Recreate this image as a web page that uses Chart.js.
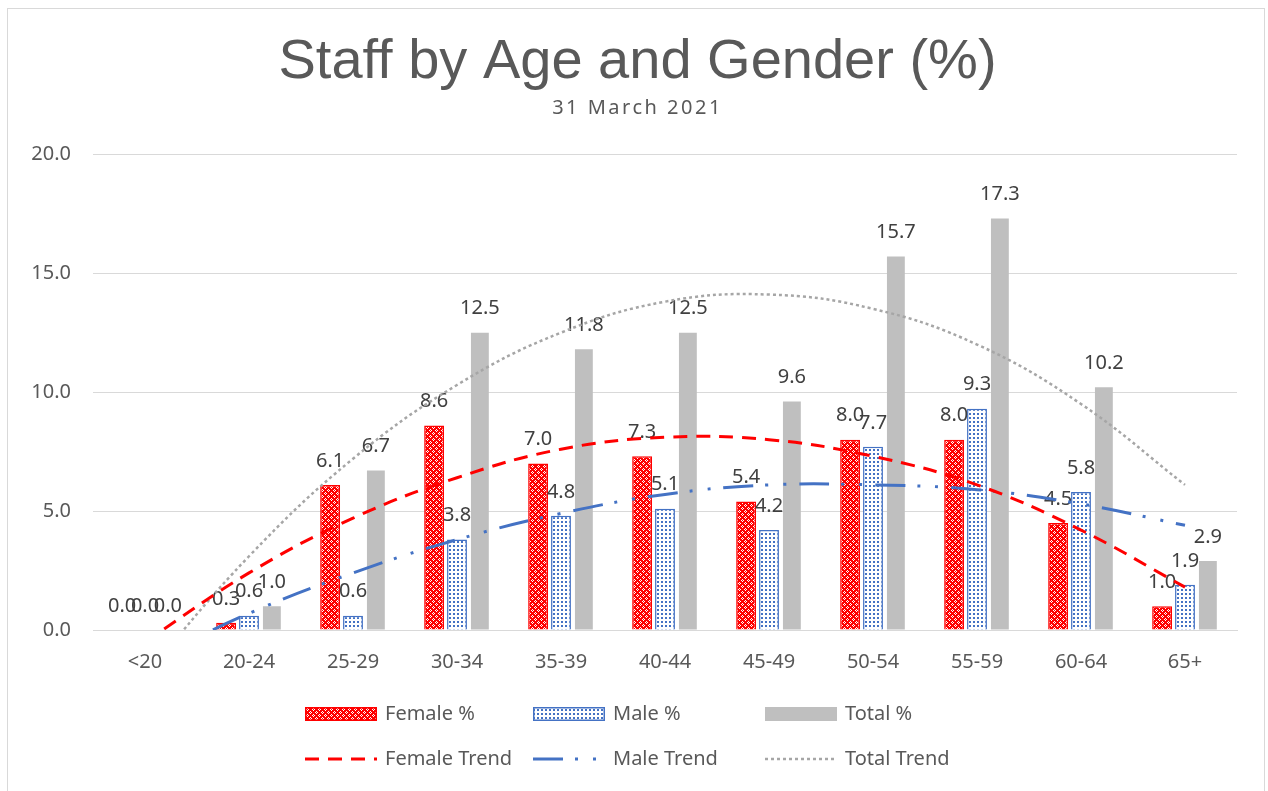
<!DOCTYPE html>
<html><head><meta charset="utf-8">
<script src="https://cdn.jsdelivr.net/npm/chart.js@4.4.1/dist/chart.umd.min.js"></script>
<style>html,body{margin:0;padding:0;background:#fff;overflow:hidden}#wrap{position:relative;width:1268px;height:791px}</style>
</head><body><div id="wrap"><canvas id="c" width="1268" height="791"></canvas></div>
<script>
const categories = ['<20','20-24','25-29','30-34','35-39','40-44','45-49','50-54','55-59','60-64','65+'];
const femalePct = [0.0,0.3,6.1,8.6,7.0,7.3,5.4,8.0,8.0,4.5,1.0];
const malePct   = [0.0,0.6,0.6,3.8,4.8,5.1,4.2,7.7,9.3,5.8,1.9];
const totalPct  = [0.0,1.0,6.7,12.5,11.8,12.5,9.6,15.7,17.3,10.2,2.9];
const femaleTrend = [-0.5,2.4,4.7,6.4,7.6,8.1,8.0,7.3,6.1,4.2,1.8];
const maleTrend   = [-1.4,0.7,2.4,3.8,4.9,5.7,6.1,6.1,5.9,5.3,4.4];
const totalTrend  = [-1.9,3.1,7.2,10.3,12.5,13.8,14.1,13.5,12.0,9.5,6.1];
const yTickValues = [0,5,10,15,20];

const FONT = '"Noto Sans", "DejaVu Sans", sans-serif';
const TXT = '#595959';
const TITLE = 'Staff by Age and Gender (%)';
const SUBTITLE = '31 March 2021';

function makePattern(w,h,draw){
  const c=document.createElement('canvas'); c.width=w; c.height=h;
  const g=c.getContext('2d'); draw(g);
  return document.getElementById('c').getContext('2d').createPattern(c,'repeat');
}
const femalePattern = makePattern(6,6,g=>{
  g.fillStyle='#ff0000'; g.fillRect(0,0,6,6);
  g.fillStyle='#ffffff';
  [[1,0],[0,1],[2,1],[1,2],[4,3],[3,4],[5,4],[4,5]].forEach(p=>g.fillRect(p[0],p[1],1,1));
});
const malePattern = makePattern(4,4,g=>{
  g.fillStyle='#ffffff'; g.fillRect(0,0,4,4);
  g.fillStyle='#4472c4'; g.fillRect(1,1,2,2);
});

const barLabels = {
  id:'barLabels',
  afterDatasetDraw(chart,args){
    if(args.index!==0) return;
    const ctx=chart.ctx; ctx.save();
    ctx.font='20px '+FONT; ctx.fillStyle='#404040'; ctx.textAlign='center'; ctx.textBaseline='middle';
    chart.data.datasets.forEach((ds,i)=>{
      if(ds.type!=='bar') return;
      chart.getDatasetMeta(i).data.forEach((el,j)=>{
        ctx.fillText(ds.data[j].toFixed(1), el.x, el.y-24);
      });
    });
    ctx.restore();
  }
};

const legendLayout = [
  {ds:0,x:305,y:714},{ds:1,x:533,y:714},{ds:2,x:765,y:714},
  {ds:3,x:305,y:759},{ds:4,x:533,y:759},{ds:5,x:765,y:759}
];
const customLegend = {
  id:'customLegend',
  afterDraw(chart){
    const ctx=chart.ctx; ctx.save();
    legendLayout.forEach(it=>{
      const ds=chart.data.datasets[it.ds];
      if(ds.type==='bar'){
        ctx.fillStyle=ds.backgroundColor; ctx.fillRect(it.x,it.y-7,72,14);
        if(ds.borderWidth){ctx.strokeStyle=ds.borderColor; ctx.lineWidth=1.5; ctx.strokeRect(it.x+0.75,it.y-6.25,70.5,12.5);}
      } else {
        ctx.strokeStyle=ds.borderColor; ctx.lineWidth=ds.borderWidth; ctx.setLineDash(ds.borderDash||[]);
        ctx.beginPath(); ctx.moveTo(it.x,it.y); ctx.lineTo(it.x+72,it.y); ctx.stroke(); ctx.setLineDash([]);
      }
      ctx.font='20px '+FONT; ctx.fillStyle=TXT; ctx.textAlign='left'; ctx.textBaseline='middle';
      ctx.fillText(ds.label,it.x+80,it.y);
    });
    ctx.strokeStyle='#d9d9d9'; ctx.lineWidth=1; ctx.strokeRect(7.5,8.5,1257,790);
    ctx.restore();
  }
};

const chart = new Chart(document.getElementById('c'),{
  data:{
    labels:categories,
    datasets:[
      {type:'bar',label:'Female %',data:femalePct,backgroundColor:femalePattern,borderColor:'#ff0000',borderWidth:1.5,barPercentage:0.87,categoryPercentage:0.66,order:2},
      {type:'bar',label:'Male %',data:malePct,backgroundColor:malePattern,borderColor:'#4472c4',borderWidth:1.5,barPercentage:0.87,categoryPercentage:0.66,order:2},
      {type:'bar',label:'Total %',data:totalPct,backgroundColor:'#bfbfbf',borderWidth:0,barPercentage:0.78,categoryPercentage:0.66,order:2},
      {type:'line',label:'Female Trend',data:femaleTrend,borderColor:'#ff0000',borderWidth:3,borderDash:[14,9],pointRadius:0,tension:0.4,fill:false,order:1},
      {type:'line',label:'Male Trend',data:maleTrend,borderColor:'#4472c4',borderWidth:3,borderDash:[30,12,3,15,3,13],pointRadius:0,tension:0.4,fill:false,order:1},
      {type:'line',label:'Total Trend',data:totalTrend,borderColor:'#a6a6a6',borderWidth:2.5,borderDash:[3,3],pointRadius:0,tension:0.4,fill:false,order:1}
    ]
  },
  options:{
    responsive:false, animation:false, devicePixelRatio:1,
    layout:{padding:{top:17,left:8,right:31,bottom:101}},
    plugins:{
      legend:{display:false}, tooltip:{enabled:false},
      title:{display:true,text:TITLE,color:TXT,font:{family:'"Liberation Sans", Arial, sans-serif',size:56,weight:'normal'},padding:{top:12,bottom:0}},
      subtitle:{display:true,text:SUBTITLE,color:TXT,font:{family:FONT,size:20,weight:'normal'},padding:{top:0,bottom:34}}
    },
    scales:{
      x:{grid:{display:false},border:{color:'#d9d9d9'},ticks:{color:TXT,font:{family:FONT,size:20},padding:12},afterFit:s=>{s.height=60;}},
      y:{min:0,max:20,border:{display:false},grid:{color:'#d9d9d9',drawTicks:false},
         afterBuildTicks:s=>{s.ticks=yTickValues.map(v=>({value:v}));},
         ticks:{color:TXT,font:{family:FONT,size:20},padding:22,callback:v=>Number(v).toFixed(1)},
         afterFit:s=>{s.width=85;}}
    }
  },
  plugins:[barLabels,customLegend]
});
// center title/subtitle on the full frame; letter spacing for subtitle
chart.boxes.forEach(b=>{
  if(!b.options||(b.options.text!==TITLE&&b.options.text!==SUBTITLE)) return;
  const od=b.draw.bind(b); const isSub=b.options.text===SUBTITLE;
  b.draw=function(){const ctx=this.ctx; ctx.save(); ctx.translate(15,0); if(isSub) ctx.letterSpacing='2.5px'; od(); ctx.restore();};
});
chart.draw();
</script></body></html>
